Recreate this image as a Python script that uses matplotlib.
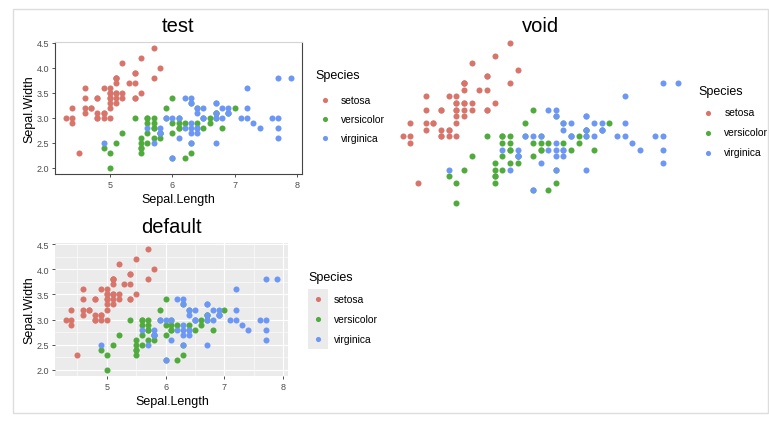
import matplotlib.pyplot as plt
import matplotlib.patches as mpatches
from matplotlib.lines import Line2D
from matplotlib.ticker import MultipleLocator, FormatStrFormatter

plt.rcParams['font.family'] = ['Liberation Sans', 'DejaVu Sans']

# iris data, Sepal.Length / Sepal.Width per species
setosa_length = [5.1, 4.9, 4.7, 4.6, 5.0, 5.4, 4.6, 5.0, 4.4, 4.9, 5.4, 4.8, 4.8, 4.3, 5.8, 5.7, 5.4,
                 5.1, 5.7, 5.1, 5.4, 5.1, 4.6, 5.1, 4.8, 5.0, 5.0, 5.2, 5.2, 4.7, 4.8, 5.4, 5.2, 5.5,
                 4.9, 5.0, 5.5, 4.9, 4.4, 5.1, 5.0, 4.5, 4.4, 5.0, 5.1, 4.8, 5.1, 4.6, 5.3, 5.0]
setosa_width = [3.5, 3.0, 3.2, 3.1, 3.6, 3.9, 3.4, 3.4, 2.9, 3.1, 3.7, 3.4, 3.0, 3.0, 4.0, 4.4, 3.9,
                3.5, 3.8, 3.8, 3.4, 3.7, 3.6, 3.3, 3.4, 3.0, 3.4, 3.5, 3.4, 3.2, 3.1, 3.4, 4.1, 4.2,
                3.1, 3.2, 3.5, 3.6, 3.0, 3.4, 3.5, 2.3, 3.2, 3.5, 3.8, 3.0, 3.8, 3.2, 3.7, 3.3]
versicolor_length = [7.0, 6.4, 6.9, 5.5, 6.5, 5.7, 6.3, 4.9, 6.6, 5.2, 5.0, 5.9, 6.0, 6.1, 5.6, 6.7, 5.6,
                     5.8, 6.2, 5.6, 5.9, 6.1, 6.3, 6.1, 6.4, 6.6, 6.8, 6.7, 6.0, 5.7, 5.5, 5.5, 5.8, 6.0,
                     5.4, 6.0, 6.7, 6.3, 5.6, 5.5, 5.5, 6.1, 5.8, 5.0, 5.6, 5.7, 5.7, 6.2, 5.1, 5.7]
versicolor_width = [3.2, 3.2, 3.1, 2.3, 2.8, 2.8, 3.3, 2.4, 2.9, 2.7, 2.0, 3.0, 2.2, 2.9, 2.9, 3.1, 3.0,
                    2.7, 2.2, 2.5, 3.2, 2.8, 2.5, 2.8, 2.9, 3.0, 2.8, 3.0, 2.9, 2.6, 2.4, 2.4, 2.7, 2.7,
                    3.0, 3.4, 3.1, 2.3, 3.0, 2.5, 2.6, 3.0, 2.6, 2.3, 2.7, 3.0, 2.9, 2.9, 2.5, 2.8]
virginica_length = [6.3, 5.8, 7.1, 6.3, 6.5, 7.6, 4.9, 7.3, 6.7, 7.2, 6.5, 6.4, 6.8, 5.7, 5.8, 6.4, 6.5,
                    7.7, 7.7, 6.0, 6.9, 5.6, 7.7, 6.3, 6.7, 7.2, 6.2, 6.1, 6.4, 7.2, 7.4, 7.9, 6.4, 6.3,
                    6.1, 7.7, 6.3, 6.4, 6.0, 6.9, 6.7, 6.9, 5.8, 6.8, 6.7, 6.7, 6.3, 6.5, 6.2, 5.9]
virginica_width = [3.3, 2.7, 3.0, 2.9, 3.0, 3.0, 2.5, 2.9, 2.5, 3.6, 3.2, 2.7, 3.0, 2.5, 2.8, 3.2, 3.0,
                   3.8, 2.6, 2.2, 3.2, 2.8, 2.8, 2.7, 3.3, 3.2, 2.8, 3.0, 2.8, 3.0, 2.8, 3.8, 2.8, 2.8,
                   2.6, 3.0, 3.4, 3.1, 3.0, 3.1, 3.1, 3.1, 2.7, 3.2, 3.3, 3.0, 2.5, 3.0, 3.4, 3.0]

species = ['setosa', 'versicolor', 'virginica']
colors = ['#D9746A', '#4FAB3C', '#6C97F5']
series = [(setosa_length, setosa_width), (versicolor_length, versicolor_width),
          (virginica_length, virginica_width)]

W, H = 769, 427
fig = plt.figure(figsize=(W / 100, H / 100), dpi=100)


def px_axes(x0, y0, x1, y1):
    # pixel box (top-left origin) -> figure axes
    return fig.add_axes([x0 / W, 1 - y1 / H, (x1 - x0) / W, (y1 - y0) / H])


def fx(x):
    return x / W


def fy(y):
    return 1 - y / H


def draw_points(ax):
    for (xs, ys), c in zip(series, colors):
        ax.scatter(xs, ys, s=19, color=c, linewidths=0, zorder=3)
    ax.set_xlim(4.12, 8.08)
    ax.set_ylim(1.88, 4.52)


def style_ticks(ax):
    ax.xaxis.set_major_locator(MultipleLocator(1))
    ax.yaxis.set_major_locator(MultipleLocator(0.5))
    ax.yaxis.set_major_formatter(FormatStrFormatter('%.1f'))
    ax.tick_params(length=2.5, width=0.6, color='#333333', labelsize=6.5,
                   labelcolor='#4D4D4D', pad=1.5)


def add_legend(x, y_title, y_first, step=19.8, key_dx=10, text_dx=26):
    # hand placed legend: title, then one dot + label per species
    fig.text(fx(x), fy(y_title), 'Species', ha='left', va='center', fontsize=9)
    for i, (s, c) in enumerate(zip(species, colors)):
        yy = y_first + i * step
        fig.add_artist(Line2D([fx(x + key_dx)], [fy(yy)], transform=fig.transFigure,
                              marker='o', linestyle='', markersize=3.7,
                              markerfacecolor=c, markeredgewidth=0))
        fig.text(fx(x + text_dx), fy(yy), s, ha='left', va='center', fontsize=7.4)


# test panel
ax1 = px_axes(55, 43, 302, 175)
draw_points(ax1)
style_ticks(ax1)
for side in ['left', 'bottom', 'right']:
    ax1.spines[side].set_color('#444444')
    ax1.spines[side].set_linewidth(0.8)
ax1.spines['top'].set_color('#D4D4D4')
ax1.spines['top'].set_linewidth(0.8)
fig.text(fx(178.5), fy(32), 'test', ha='center', va='baseline', fontsize=14.5)
fig.text(fx(178), fy(203), 'Sepal.Length', ha='center', va='baseline', fontsize=9)
fig.text(fx(29), fy(109), 'Sepal.Width', ha='center', va='center', rotation=90, fontsize=9)
add_legend(315, 76, 100.7, step=19.3, key_dx=10, text_dx=26)

# void panel
ax2 = px_axes(389, 36, 692, 212)
draw_points(ax2)
ax2.axis('off')
fig.text(fx(541), fy(32), 'void', ha='center', va='baseline', fontsize=14.5)
add_legend(698, 92, 113.5, step=20, key_dx=10.3, text_dx=26.3)

# default panel
ax3 = px_axes(55, 244, 288, 377)
draw_points(ax3)
style_ticks(ax3)
ax3.set_facecolor('#EBEBEB')
for s in ax3.spines.values():
    s.set_visible(False)
ax3.xaxis.set_minor_locator(MultipleLocator(0.5))
ax3.yaxis.set_minor_locator(MultipleLocator(0.25))
ax3.tick_params(which='minor', length=0)
ax3.grid(True, which='major', color='white', linewidth=0.8)
ax3.grid(True, which='minor', color='white', linewidth=0.4)
ax3.set_axisbelow(True)
fig.text(fx(171.5), fy(233), 'default', ha='center', va='baseline', fontsize=14.5)
fig.text(fx(172), fy(405), 'Sepal.Length', ha='center', va='baseline', fontsize=9)
fig.text(fx(29), fy(310), 'Sepal.Width', ha='center', va='center', rotation=90, fontsize=9)
# gray background behind the legend keys
fig.add_artist(mpatches.Rectangle((fx(308), fy(350)), fx(20), 60 / H,
                                  transform=fig.transFigure, facecolor='#EBEBEB',
                                  edgecolor='none', zorder=0))
add_legend(308, 278, 300, step=20, key_dx=10, text_dx=26)

# outer frame
fig.add_artist(mpatches.Rectangle((fx(13), fy(414)), fx(755), 404 / H,
                                  transform=fig.transFigure, facecolor='none',
                                  edgecolor='#DDDDDD', linewidth=1.0))

plt.savefig('out.png', dpi=100)
plt.close()
